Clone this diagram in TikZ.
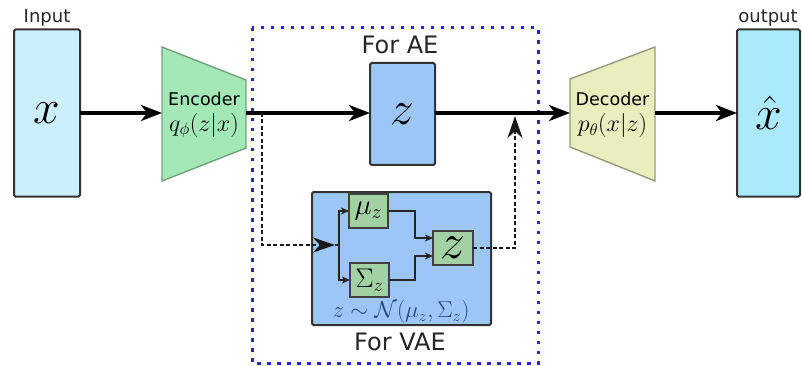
\documentclass[tikz,border=0pt]{standalone}
\usepackage{fix-cm}
\usepackage{fontspec}
\newfontfamily\lab{DejaVu Sans}
\usetikzlibrary{arrows.meta,calc}
\definecolor{inC}{HTML}{CCEFFC}
\definecolor{outC}{HTML}{AAEAFA}
\definecolor{encC}{HTML}{A3E8B6}
\definecolor{decC}{HTML}{E8EEBE}
\definecolor{zC}{HTML}{9CC6F6}
\definecolor{grC}{HTML}{A2D1A4}
\definecolor{aeC}{HTML}{2626D8}
\definecolor{fmC}{HTML}{2C4680}
\begin{document}
\begin{tikzpicture}[x=1pt,y=-1pt,
  box/.style={draw=black!80, line width=2pt, rounded corners=1.5pt, inner sep=0pt, outer sep=0pt},
  smallbox/.style={draw=black!75, line width=1.5pt, inner sep=0pt, outer sep=0pt, fill=grC},
  mainarrow/.style={line width=3.4pt, -{Stealth[length=21pt,width=16pt,inset=6pt]}},
  dasharrow/.style={line width=2.8pt, dash pattern=on 4pt off 2.5pt, black!90, -{Stealth[length=22pt,width=15pt,inset=7pt]}},
  thinarrow/.style={line width=2.4pt, black!85, -{Stealth[length=8pt,width=7pt,inset=2pt]}},
  lbl/.style={font=\lab\fontsize{18}{20}\selectfont, text=black!85},
  big/.style={font=\lab\fontsize{24}{26}\selectfont, text=black!85},
  twoline/.style={inner sep=0pt, outer sep=0pt, minimum height=134pt, align=center}
]
\useasboundingbox (0,0) rectangle (802,366);

% AE dotted region
\draw[aeC, line width=3pt, dash pattern=on 3.5pt off 6.5pt] (252,28) rectangle (538,363);
\node[big] (forae) at (400,45) {For AE};
\node[big] (forvae) at (400,342) {For VAE};

% input / output
\node[box, fill=inC, minimum width=66pt, minimum height=167pt] (in) at (47,113) {\fontsize{48}{48}\selectfont$x$};
\node[lbl, anchor=base] (inlbl) at (47,23) {Input};
\node[box, fill=outC, minimum width=63pt, minimum height=167pt] (out) at (768.5,113) {\fontsize{48}{48}\selectfont$\hat{x}$};
\node[lbl, anchor=base] (outlbl) at (768,23) {output};

% encoder
\draw[encC!70!black, line width=1.4pt, fill=encC] (162,47) -- (246,80) -- (246,148) -- (162,181) -- cycle;
\node[twoline, minimum width=84pt] (enc) at (204,115)
  {{\lab\fontsize{17.5}{19}\selectfont Encoder}\\[7pt]\fontsize{24}{24}\selectfont$q_\phi(z|x)$};

% decoder
\draw[decC!65!black, line width=1.4pt, fill=decC] (570,79) -- (655,47) -- (655,181) -- (570,147) -- cycle;
\node[twoline, minimum width=85pt] (dec) at (612.5,115)
  {{\lab\fontsize{17.5}{19}\selectfont Decoder}\\[7pt]\fontsize{24}{24}\selectfont$p_\theta(x|z)$};

% latent z
\node[box, fill=zC, minimum width=65pt, minimum height=102pt] (z) at (402.5,114) {\fontsize{48}{48}\selectfont$z$};

% VAE box
\node[box, fill=zC, minimum width=179pt, minimum height=133pt] (vae) at (401.5,258.5) {};
\node[smallbox, minimum width=39pt, minimum height=34pt] (mu) at (368.5,211) {\fontsize{29}{29}\selectfont$\mu_z$};
\node[smallbox, minimum width=39pt, minimum height=34pt] (sig) at (369.5,280) {\fontsize{27}{27}\selectfont$\Sigma_z$};
\node[smallbox, minimum width=40pt, minimum height=34pt] (Z) at (453,248) {\fontsize{50}{50}\selectfont$z$};
\node[text=fmC] (fm) at (401,312) {\fontsize{23}{23}\selectfont$z\sim\mathcal{N}(\mu_z,\Sigma_z)$};

% main connectors (main line at y=113)
\coordinate (encin) at (162,113);
\coordinate (encout) at (246,113);
\coordinate (decin) at (570,113);
\coordinate (decout) at (655,113);
\draw[mainarrow] (in.east) -- (encin);
\draw[mainarrow] (encout) -- (z.west |- encout);
\draw[mainarrow] (z.east |- decin) -- (decin);
\draw[mainarrow] (decout) -- (out.west);

% VAE path
\coordinate (sp) at (262,113);
\coordinate (vin) at (335,245);
\coordinate (fork) at (339,245);
\draw[dasharrow] (sp) |- (vin);
\draw[thinarrow] (fork) |- (mu.west);
\draw[thinarrow] (fork) |- (sig.west);
\draw[line width=2.4pt, black!85] (fork) -- ++(-4,0);
\draw[thinarrow] (mu.east) -- ++(27,0) |- ([yshift=10pt]Z.west);
\draw[thinarrow] (sig.east) -- ++(26,0) |- ([yshift=-8pt]Z.west);
\coordinate (join) at (515,116);
\draw[dasharrow] (Z.east) -| (join);
\end{tikzpicture}
\end{document}
